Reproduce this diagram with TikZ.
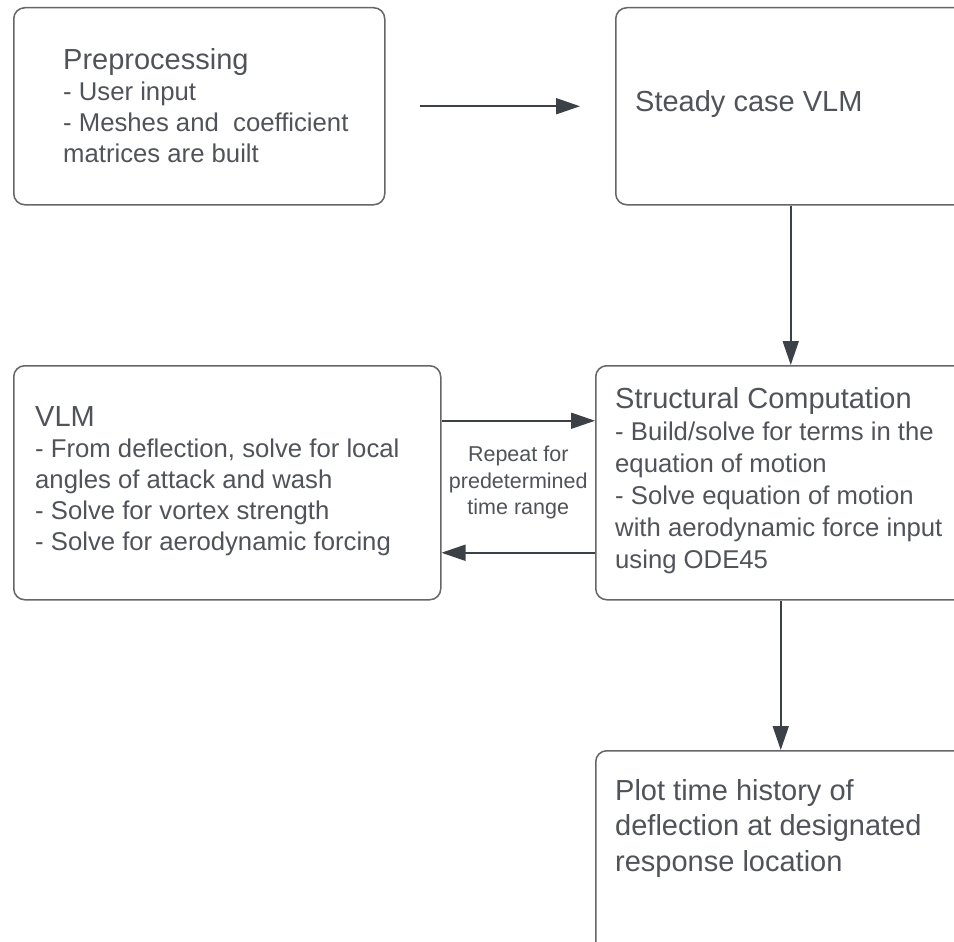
\documentclass[tikz,border=0pt]{standalone}
\usepackage{fontspec}
\setmainfont{Liberation Sans}
\usetikzlibrary{arrows.meta,positioning}
\definecolor{boxline}{HTML}{666666}
\definecolor{txtgray}{HTML}{505359}
\definecolor{arrowgray}{HTML}{3C4147}
\newcommand{\headfont}{\fontsize{29}{31}\selectfont}
\newcommand{\bodyfont}{\fontsize{25.7}{31}\selectfont}

\begin{document}
\begin{tikzpicture}[x=1pt, y=-1pt, >={Triangle[length=24pt,width=16pt]},
	box/.style={draw=boxline, line width=1.5pt, rounded corners=11pt, fill=white, anchor=north west, inner sep=0pt},
	boxtext/.style={text=txtgray, align=left, inner sep=0pt, font=\bodyfont},
	flow/.style={->, draw=arrowgray, line width=1.8pt},
	loopnote/.style={text=txtgray, align=center, inner sep=0pt, font=\fontsize{21.5}{26.5}\selectfont}]
	\useasboundingbox (0,0) rectangle (954,942);
	\fill[white] (0,0) rectangle (954,942);
	% boxes first, texts placed against their west side
	\node[box, minimum width=371pt, minimum height=197pt] (pre) at (13,7) {};
	\node[boxtext, anchor=west] (pretext) at ([xshift=50pt,yshift=1pt]pre.west) {{\headfont Preprocessing}\\- User input\\- Meshes and \ coefficient\\matrices are built};
	\node[box, minimum width=350pt, minimum height=197pt] (steady) at (615,7) {};
	\node[boxtext, anchor=west, font=\headfont] (steadytext) at ([xshift=20pt,yshift=2.5pt]steady.west) {Steady case VLM};
	\node[box, minimum width=427pt, minimum height=234pt] (vlm) at (13,365) {};
	\node[boxtext, anchor=west] (vlmtext) at ([xshift=22pt,yshift=2pt]vlm.west) {{\headfont VLM}\\- From deflection, solve for local\\angles of attack and wash\\- Solve for vortex strength\\- Solve for aerodynamic forcing};
	\node[box, minimum width=390pt, minimum height=234pt] (struct) at (595,365) {};
	\node[boxtext, anchor=west, font=\fontsize{25.7}{32}\selectfont] (structtext) at ([xshift=20pt,yshift=2pt]struct.west) {{\headfont Structural Computation}\\- Build/solve for terms in the\\equation of motion\\- Solve equation of motion\\with aerodynamic force input\\using ODE45};
	\node[box, minimum width=370pt, minimum height=210pt] (plot) at (595,750) {};
	\node[boxtext, anchor=north west, font=\fontsize{29}{35.5}\selectfont] (plottext) at ([xshift=20pt,yshift=-29pt]plot.north west) {Plot time history of\\deflection at designated\\response location};
	% connectors
	\draw[flow, shorten <=34pt, shorten >=35pt] (pre.east) -- (steady.west);
	\draw[flow] (steady.south) -- (struct.north);
	\draw[flow] ([yshift=62pt]vlm.east) -- ([yshift=62pt]struct.west);
	\draw[flow] ([yshift=-70pt]struct.west) -- ([yshift=-70pt]vlm.east);
	\path (vlm.east) -- node[loopnote] (repeat) {Repeat for\\predetermined\\time range} (struct.west);
	\draw[flow] (struct.south -| plot.north) -- (plot.north);
\end{tikzpicture}
\end{document}
